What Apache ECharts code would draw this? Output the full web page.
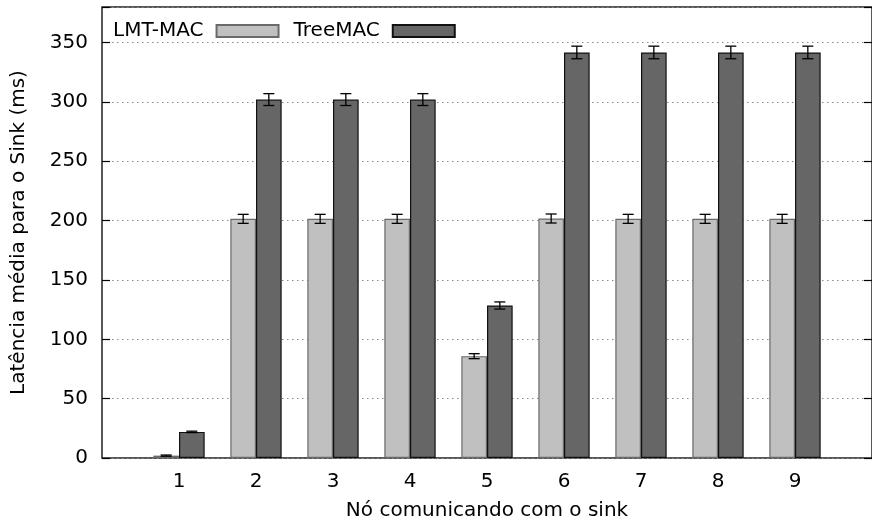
<!DOCTYPE html>
<html>
<head>
<meta charset="utf-8">
<script src="https://cdn.jsdelivr.net/npm/echarts@6/dist/echarts.min.js"></script>
<style>
html,body{margin:0;padding:0;background:#fff;overflow:hidden;}
#c{width:872px;height:521px;}
</style>
</head>
<body>
<div id="c"></div>
<script>
const categories = [1, 2, 3, 4, 5, 6, 7, 8, 9];
const lmtMac = [2, 201.5, 201.5, 201.5, 85.8, 201.8, 201.5, 201.5, 201.5];
const lmtMacErr = [0.5, 3.8, 3.8, 3.8, 2.1, 3.8, 3.8, 3.8, 3.8];
const treeMac = [22, 302, 302, 302, 128.5, 341.7, 341.7, 341.7, 341.7];
const treeMacErr = [0.6, 5, 5, 5, 3, 5.3, 5.3, 5.3, 5.3];
const seriesNames = ['LMT-MAC', 'TreeMAC'];
const yTicks = [0, 50, 100, 150, 200, 250, 300, 350];

const FONT = 'DejaVu Sans';
const FS = 20;

const barData1 = categories.map((c, i) => [c, lmtMac[i]]);
const barData2 = categories.map((c, i) => [c, treeMac[i]]);
const errData = [];
categories.forEach((c, i) => {
  errData.push([c, lmtMac[i] - lmtMacErr[i], lmtMac[i] + lmtMacErr[i], -1]);
  errData.push([c, treeMac[i] - treeMacErr[i], treeMac[i] + treeMacErr[i], 1]);
});

const chart = echarts.init(document.getElementById('c'), null, {renderer: 'canvas'});
const yAxisCommon = {
  type: 'value', min: 0, max: 380, interval: 50,
  axisLine: {show: false},
  axisTick: {show: true, inside: true, length: 8, lineStyle: {color: '#000', width: 1.2}},
  splitLine: {show: false}
};
chart.setOption({
  animation: false,
  backgroundColor: '#fff',
  textStyle: {fontFamily: FONT},
  grid: {left: 102, right: 0, top: 7, bottom: 63, containLabel: false, outerBoundsMode: 'none',
    show: true, borderColor: '#222', borderWidth: 1.5, backgroundColor: 'transparent'},
  legend: {
    data: seriesNames,
    left: 108, top: 16,
    align: 'right', icon: 'rect',
    itemWidth: 62, itemHeight: 12, itemGap: 14,
    textStyle: {fontFamily: FONT, fontSize: FS, color: '#000', padding: [0, 8, 0, 0]}
  },
  xAxis: {
    type: 'value', min: 0, max: 10, interval: 1,
    axisLine: {show: false},
    axisTick: {show: false},
    splitLine: {show: false},
    axisLabel: {
      fontFamily: FONT, fontSize: FS, color: '#000', margin: 14,
      formatter: v => (categories.indexOf(v) >= 0 ? String(v) : '')
    },
    name: 'Nó comunicando com o sink',
    nameLocation: 'middle', nameGap: 43,
    nameTextStyle: {fontFamily: FONT, fontSize: FS, color: '#000'}
  },
  yAxis: [
    Object.assign({}, yAxisCommon, {
      position: 'left',
      splitLine: {show: true, lineStyle: {color: '#888', type: [1.5, 3.5], width: 1}},
      axisLabel: {fontFamily: FONT, fontSize: FS, color: '#000', margin: 14,
        formatter: v => (yTicks.indexOf(v) >= 0 ? String(v) : '')},
      name: 'Latência média para o Sink (ms)',
      nameLocation: 'middle', nameGap: 73, nameRotate: 90,
      nameTextStyle: {fontFamily: FONT, fontSize: FS, color: '#000'}
    }),
    Object.assign({}, yAxisCommon, {
      position: 'right',
      axisLabel: {show: false}
    })
  ],
  series: [
    {
      name: seriesNames[0], type: 'bar', data: barData1,
      barWidth: 25.67, barGap: '0%',
      itemStyle: {color: '#c0c0c0', borderColor: '#6a6a6a', borderWidth: 1.2},
      z: 3
    },
    {
      name: seriesNames[1], type: 'bar', data: barData2,
      barWidth: 25.67, barGap: '0%',
      itemStyle: {color: '#666666', borderColor: '#111', borderWidth: 1.2},
      z: 3
    },
    {
      type: 'custom', data: errData, z: 5,
      renderItem: function (params, api) {
        const x = api.value(0), lo = api.value(1), hi = api.value(2), off = api.value(3);
        const unit = api.size([1, 0])[0];
        const pLo = api.coord([x, lo]);
        const pHi = api.coord([x, hi]);
        const cx = pLo[0] + off * unit / 6;
        const hw = 5.5;
        const st = {stroke: '#000', lineWidth: 1.3};
        return {
          type: 'group',
          children: [
            {type: 'line', shape: {x1: cx, y1: pLo[1], x2: cx, y2: pHi[1]}, style: st},
            {type: 'line', shape: {x1: cx - hw, y1: pLo[1], x2: cx + hw, y2: pLo[1]}, style: st},
            {type: 'line', shape: {x1: cx - hw, y1: pHi[1], x2: cx + hw, y2: pHi[1]}, style: st}
          ]
        };
      }
    }
  ]
});
</script>
</body>
</html>
